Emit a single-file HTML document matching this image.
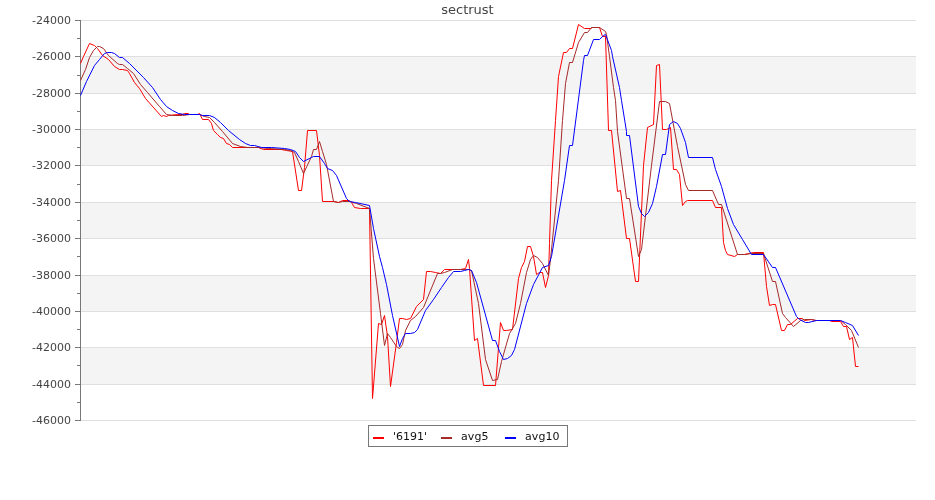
<!DOCTYPE html>
<html><head><meta charset="utf-8"><title>sectrust</title>
<style>html,body{margin:0;padding:0;background:#fff}</style></head>
<body>
<svg width="935" height="500" viewBox="0 0 935 500" style="display:block">
<rect x="0" y="0" width="935" height="500" fill="#fff"/>
<g shape-rendering="crispEdges">
<rect x="80" y="56" width="836" height="37" fill="#f4f4f4"/>
<rect x="80" y="129" width="836" height="36" fill="#f4f4f4"/>
<rect x="80" y="202" width="836" height="36" fill="#f4f4f4"/>
<rect x="80" y="275" width="836" height="36" fill="#f4f4f4"/>
<rect x="80" y="347" width="836" height="37" fill="#f4f4f4"/>
<rect x="80" y="20" width="836" height="1" fill="#dfdfdf"/>
<rect x="80" y="56" width="836" height="1" fill="#dfdfdf"/>
<rect x="80" y="93" width="836" height="1" fill="#dfdfdf"/>
<rect x="80" y="129" width="836" height="1" fill="#dfdfdf"/>
<rect x="80" y="165" width="836" height="1" fill="#dfdfdf"/>
<rect x="80" y="202" width="836" height="1" fill="#dfdfdf"/>
<rect x="80" y="238" width="836" height="1" fill="#dfdfdf"/>
<rect x="80" y="275" width="836" height="1" fill="#dfdfdf"/>
<rect x="80" y="311" width="836" height="1" fill="#dfdfdf"/>
<rect x="80" y="347" width="836" height="1" fill="#dfdfdf"/>
<rect x="80" y="384" width="836" height="1" fill="#dfdfdf"/>
<rect x="80" y="420" width="836" height="1" fill="#dfdfdf"/>
<rect x="80" y="20" width="1" height="401" fill="#777"/>
<rect x="75" y="20" width="5" height="1" fill="#777"/>
<rect x="75" y="56" width="5" height="1" fill="#777"/>
<rect x="75" y="93" width="5" height="1" fill="#777"/>
<rect x="75" y="129" width="5" height="1" fill="#777"/>
<rect x="75" y="165" width="5" height="1" fill="#777"/>
<rect x="75" y="202" width="5" height="1" fill="#777"/>
<rect x="75" y="238" width="5" height="1" fill="#777"/>
<rect x="75" y="275" width="5" height="1" fill="#777"/>
<rect x="75" y="311" width="5" height="1" fill="#777"/>
<rect x="75" y="347" width="5" height="1" fill="#777"/>
<rect x="75" y="384" width="5" height="1" fill="#777"/>
<rect x="75" y="420" width="5" height="1" fill="#777"/>
<rect x="77" y="38" width="3" height="1" fill="#777"/>
<rect x="77" y="75" width="3" height="1" fill="#777"/>
<rect x="77" y="111" width="3" height="1" fill="#777"/>
<rect x="77" y="147" width="3" height="1" fill="#777"/>
<rect x="77" y="184" width="3" height="1" fill="#777"/>
<rect x="77" y="220" width="3" height="1" fill="#777"/>
<rect x="77" y="256" width="3" height="1" fill="#777"/>
<rect x="77" y="293" width="3" height="1" fill="#777"/>
<rect x="77" y="329" width="3" height="1" fill="#777"/>
<rect x="77" y="365" width="3" height="1" fill="#777"/>
<rect x="77" y="402" width="3" height="1" fill="#777"/>
</g>
<g font-family="'DejaVu Sans', 'Liberation Sans', sans-serif" font-size="11" fill="#444" text-anchor="end">
<text x="71" y="23.5">-24000</text>
<text x="71" y="59.5">-26000</text>
<text x="71" y="96.5">-28000</text>
<text x="71" y="132.5">-30000</text>
<text x="71" y="168.5">-32000</text>
<text x="71" y="205.5">-34000</text>
<text x="71" y="241.5">-36000</text>
<text x="71" y="278.5">-38000</text>
<text x="71" y="314.5">-40000</text>
<text x="71" y="350.5">-42000</text>
<text x="71" y="387.5">-44000</text>
<text x="71" y="423.5">-46000</text>
</g>
<text x="467.5" y="14" font-family="'DejaVu Sans', 'Liberation Sans', sans-serif" font-size="13" fill="#444" text-anchor="middle">sectrust</text>
<polyline fill="none" stroke="#ff0000" stroke-width="1" stroke-linejoin="miter" points="80.5,63.5 83.5,56.5 89.5,43.5 94.5,45.5 97.5,48.5 102.5,55.5 108.5,59.5 114.5,66.5 119.5,69.5 122.5,69.5 127.5,70.5 129.5,73.5 134.5,82.5 139.5,88.5 145.5,98.5 161.5,116.5 163.5,115.5 166.5,116.5 168.5,115.5 177.5,114.5 182.5,114.5 184.5,113.5 188.5,113.5 189.5,114.5 197.5,114.5 199.5,113.5 200.5,115.5 202.5,119.5 208.5,119.5 211.5,123.5 213.5,130.5 217.5,134.5 220.5,137.5 223.5,138.5 226.5,143.5 229.5,144.5 232.5,147.5 258.5,147.5 263.5,149.5 281.5,149.5 286.5,150.5 292.5,151.5 298.5,190.5 301.5,190.5 304.5,167.5 307.5,130.5 316.5,130.5 319.5,155.5 322.5,201.5 333.5,201.5 338.5,202.5 342.5,200.5 349.5,200.5 351.5,202.5 354.5,207.5 360.5,208.5 369.5,208.5 372.5,398.5 378.5,323.5 381.5,324.5 384.5,315.5 387.5,336.5 390.5,386.5 396.5,342.5 399.5,318.5 402.5,318.5 406.5,319.5 410.5,318.5 416.5,306.5 423.5,299.5 426.5,271.5 430.5,271.5 435.5,272.5 440.5,273.5 444.5,269.5 460.5,269.5 465.5,268.5 468.5,259.5 469.5,268.5 474.5,340.5 477.5,338.5 483.5,385.5 495.5,385.5 500.5,322.5 503.5,330.5 506.5,330.5 512.5,329.5 518.5,278.5 521.5,267.5 524.5,261.5 527.5,246.5 530.5,246.5 533.5,256.5 536.5,274.5 539.5,272.5 542.5,272.5 545.5,287.5 548.5,275.5 549.5,243.5 551.5,180.5 555.5,120.5 558.5,76.5 563.5,52.5 566.5,52.5 569.5,48.5 572.5,48.5 578.5,24.5 584.5,28.5 590.5,28.5 592.5,27.5 599.5,27.5 602.5,36.5 605.5,36.5 608.5,130.5 611.5,130.5 617.5,191.5 620.5,190.5 626.5,238.5 629.5,238.5 635.5,281.5 638.5,281.5 643.5,165.5 647.5,127.5 653.5,124.5 656.5,65.5 659.5,64.5 662.5,129.5 666.5,129.5 670.5,127.5 673.5,169.5 676.5,169.5 679.5,174.5 682.5,205.5 685.5,201.5 687.5,200.5 712.5,200.5 715.5,207.5 721.5,207.5 723.5,242.5 725.5,250.5 727.5,254.5 734.5,256.5 737.5,254.5 744.5,254.5 753.5,252.5 763.5,252.5 766.5,286.5 769.5,305.5 772.5,304.5 775.5,304.5 781.5,330.5 784.5,330.5 787.5,324.5 790.5,324.5 797.5,318.5 802.5,318.5 804.5,320.5 811.5,319.5 815.5,320.5 829.5,320.5 831.5,321.5 840.5,321.5 843.5,326.5 846.5,326.5 849.5,339.5 852.5,337.5 855.5,366.5 858.5,366.5"/>
<polyline fill="none" stroke="#a52a2a" stroke-width="1" stroke-linejoin="miter" points="80.5,80.5 85.5,69.5 89.5,57.5 93.5,50.5 97.5,46.5 99.5,46.5 103.5,48.5 108.5,55.5 117.5,63.5 119.5,64.5 122.5,64.5 127.5,68.5 133.5,73.5 140.5,84.5 147.5,92.5 159.5,106.5 166.5,114.5 172.5,115.5 182.5,115.5 189.5,114.5 199.5,114.5 204.5,116.5 209.5,117.5 214.5,122.5 222.5,131.5 232.5,143.5 240.5,146.5 247.5,147.5 258.5,147.5 268.5,148.5 284.5,149.5 290.5,150.5 294.5,152.5 298.5,161.5 303.5,173.5 311.5,156.5 313.5,149.5 316.5,149.5 319.5,141.5 322.5,151.5 326.5,164.5 333.5,201.5 338.5,202.5 342.5,201.5 349.5,201.5 356.5,203.5 369.5,208.5 373.5,258.5 380.5,313.5 384.5,345.5 387.5,333.5 390.5,337.5 396.5,346.5 399.5,348.5 402.5,344.5 405.5,330.5 410.5,320.5 415.5,316.5 423.5,307.5 437.5,273.5 440.5,273.5 444.5,272.5 452.5,269.5 465.5,269.5 468.5,269.5 471.5,270.5 478.5,303.5 485.5,359.5 492.5,380.5 497.5,379.5 501.5,361.5 509.5,333.5 515.5,323.5 520.5,303.5 526.5,272.5 530.5,259.5 533.5,255.5 537.5,257.5 542.5,263.5 548.5,275.5 550.5,259.5 558.5,180.5 562.5,120.5 565.5,83.5 569.5,62.5 572.5,62.5 578.5,42.5 584.5,32.5 587.5,32.5 591.5,27.5 599.5,27.5 605.5,31.5 606.5,34.5 609.5,56.5 613.5,87.5 615.5,100.5 617.5,131.5 626.5,198.5 629.5,198.5 638.5,256.5 641.5,249.5 651.5,165.5 659.5,101.5 665.5,101.5 669.5,103.5 677.5,146.5 685.5,184.5 688.5,190.5 712.5,190.5 718.5,204.5 721.5,204.5 737.5,254.5 744.5,254.5 751.5,253.5 763.5,253.5 772.5,281.5 775.5,281.5 782.5,313.5 785.5,317.5 793.5,326.5 800.5,320.5 804.5,319.5 811.5,319.5 816.5,320.5 840.5,320.5 845.5,324.5 851.5,330.5 858.5,347.5"/>
<polyline fill="none" stroke="#0000ff" stroke-width="1" stroke-linejoin="miter" points="80.5,95.5 86.5,81.5 94.5,65.5 99.5,59.5 104.5,53.5 107.5,52.5 111.5,52.5 114.5,53.5 119.5,57.5 122.5,57.5 129.5,63.5 143.5,77.5 152.5,87.5 160.5,99.5 166.5,106.5 172.5,110.5 178.5,113.5 184.5,114.5 189.5,114.5 199.5,114.5 202.5,115.5 209.5,115.5 214.5,117.5 220.5,122.5 228.5,130.5 239.5,139.5 245.5,143.5 250.5,145.5 254.5,145.5 261.5,147.5 271.5,147.5 284.5,148.5 290.5,149.5 295.5,151.5 299.5,157.5 303.5,161.5 311.5,157.5 313.5,156.5 319.5,156.5 324.5,163.5 327.5,168.5 332.5,170.5 336.5,175.5 346.5,198.5 349.5,201.5 355.5,202.5 369.5,205.5 373.5,228.5 379.5,256.5 382.5,267.5 386.5,284.5 392.5,315.5 399.5,346.5 402.5,338.5 405.5,333.5 410.5,333.5 414.5,332.5 417.5,329.5 425.5,310.5 433.5,299.5 441.5,287.5 448.5,277.5 453.5,271.5 460.5,271.5 464.5,270.5 468.5,269.5 471.5,270.5 476.5,282.5 492.5,340.5 495.5,340.5 499.5,351.5 503.5,359.5 507.5,358.5 511.5,355.5 514.5,349.5 526.5,303.5 533.5,284.5 542.5,267.5 548.5,265.5 551.5,256.5 564.5,180.5 569.5,145.5 572.5,145.5 583.5,60.5 584.5,55.5 587.5,55.5 593.5,39.5 599.5,39.5 603.5,35.5 605.5,34.5 611.5,50.5 612.5,56.5 619.5,87.5 621.5,100.5 626.5,131.5 626.5,135.5 629.5,135.5 638.5,206.5 641.5,213.5 644.5,216.5 648.5,212.5 652.5,203.5 656.5,186.5 662.5,154.5 665.5,154.5 669.5,124.5 673.5,121.5 677.5,123.5 680.5,128.5 685.5,142.5 688.5,157.5 712.5,157.5 715.5,169.5 721.5,186.5 727.5,208.5 733.5,224.5 742.5,239.5 751.5,254.5 763.5,254.5 772.5,267.5 775.5,267.5 796.5,316.5 799.5,319.5 805.5,322.5 808.5,322.5 816.5,320.5 840.5,320.5 845.5,322.5 852.5,325.5 858.5,335.5"/>
<rect x="368.5" y="425.5" width="199" height="21" fill="#fff" stroke="#777" stroke-width="1"/>
<g font-family="'DejaVu Sans', 'Liberation Sans', sans-serif" font-size="11" fill="#111">
<rect x="373" y="437" width="11" height="2" fill="#ff0000"/><text x="393" y="440.3">'6191'</text>
<rect x="441" y="437" width="11" height="2" fill="#a52a2a"/><text x="461" y="440.3" textLength="27.5">avg5</text>
<rect x="505" y="437" width="11" height="2" fill="#0000ff"/><text x="525" y="440.3" textLength="34.6">avg10</text>
</g>
</svg>
</body></html>
